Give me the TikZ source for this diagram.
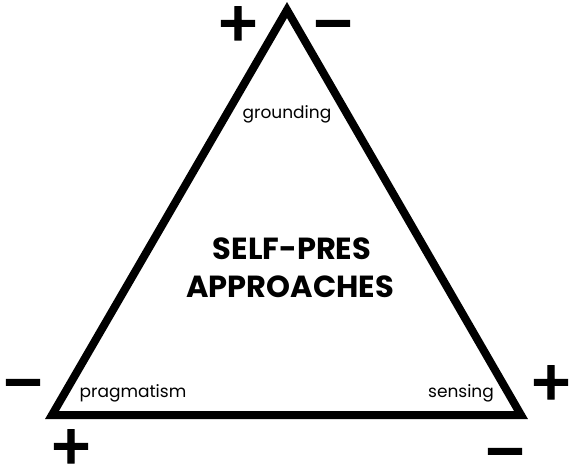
\documentclass[tikz,border=0pt]{standalone}
\usepackage{fontspec}
\setmainfont{Poppins}
\newfontfamily\signfont[BoldFeatures={FakeBold=2}]{DejaVu Sans}
\begin{document}
\begin{tikzpicture}[x=1pt,y=-1pt,
  edge/.style={line width=8pt, line join=miter},
  corner/.style={font=\fontsize{17}{20}\selectfont, anchor=base, inner sep=0pt},
  title/.style={font=\bfseries\fontsize{30.5}{38}\selectfont, anchor=base, inner sep=0pt},
  sign/.style={font=\signfont\bfseries\fontsize{53}{53}\selectfont, anchor=base, inner sep=0pt}]
\useasboundingbox (0,0) rectangle (573,465);
% triangle, centre line of the stroke
\coordinate (top) at (287,10);
\coordinate (left) at (52,415);
\coordinate (right) at (521,415);
\draw[edge] (top) -- (left) -- (right) -- cycle;
% corner labels
\node[corner] (grounding) at (287,119) {grounding};
\node[corner] (pragmatism) at (133,397) {pragmatism};
\node[corner] (sensing) at (461,397) {sensing};
% title
\node[title] (title1) at (292,259) {SELF-PRES};
\node[title] (title2) at (290,297) {APPROACHES};
% signs at the corners
\node[sign] (topplus) at (238,40) {+};
\node[sign] (topminus) at (333,40) {−};
\node[sign] (leftminus) at (23,399) {−};
\node[sign] (leftplus) at (71,463) {+};
\node[sign] (rightplus) at (551,399) {+};
\node[sign] (rightminus) at (505,468) {−};
\end{tikzpicture}
\end{document}
